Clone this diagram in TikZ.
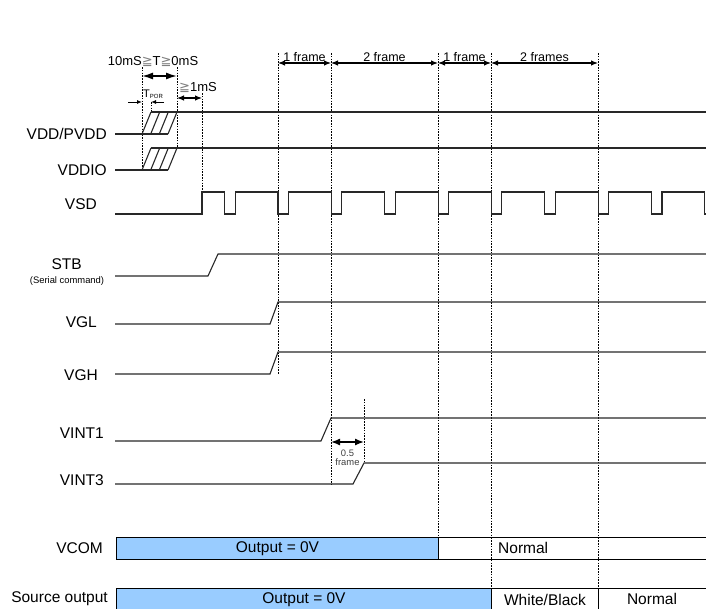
\documentclass[tikz,border=0pt]{standalone}
\usepackage{fontspec}
\setmainfont{Liberation Sans}
\newfontfamily\symfont{DejaVu Sans}
\usetikzlibrary{arrows.meta,positioning,calc}
\definecolor{barblue}{RGB}{153,204,255}
\definecolor{sigline}{RGB}{40,40,40}

\begin{document}
\begin{tikzpicture}[
    x=1pt, y=-1pt,
    sig/.style={draw=sigline, line width=1.1pt},
    guide/.style={draw=black, line width=0.7pt, dash pattern=on 1.6pt off 1.2pt},
    span/.style={{Latex[length=7pt,width=5.5pt]}-{Latex[length=7pt,width=5.5pt]}, line width=1.1pt},
    wide/.style={{Latex[length=11pt,width=7pt]}-{Latex[length=11pt,width=7pt]}, line width=1.6pt},
    half/.style={{Latex[length=9pt,width=7pt]}-{Latex[length=9pt,width=7pt]}, line width=1.4pt},
    tiny/.style={-{Latex[length=5pt,width=4pt]}, line width=0.9pt},
    lbl/.style={anchor=east, inner sep=0pt, font=\fontsize{15.5}{18}\selectfont},
    tlbl/.style={inner sep=0pt, font=\fontsize{12.5}{15}\selectfont},
    small/.style={inner sep=0pt, font=\fontsize{9.4}{11}\selectfont},
    bar/.style={draw=black, line width=1pt, fill=barblue, inner sep=0pt, anchor=north west, font=\fontsize{15.5}{18}\selectfont},
    cell/.style={draw=black, line width=1pt, inner sep=0pt, anchor=north west, font=\fontsize{15.5}{18}\selectfont}
]
\useasboundingbox (0,0) rectangle (706,608);

% Signal names
\node[lbl] (vdd) at (107,134) {VDD/PVDD};
\node[lbl] (vddio) at (107,170) {VDDIO};
\node[lbl] (vsd) at (97,204) {VSD};
\node[lbl] (stb) at (82,264) {STB};
\node[small] (stbnote) at (67,281) {(Serial command)};
\node[lbl] (vgl) at (97,322) {VGL};
\node[lbl] (vgh) at (98,375) {VGH};
\node[lbl] (vint1) at (104,433) {VINT1};
\node[lbl] (vint3) at (104,480) {VINT3};
\node[lbl] (vcom) at (103,548) {VCOM};
\node[lbl] (src) at (108,599) {Source output};

% Frame marks
\foreach \n/\x in {f0/278, f1/331, f2/438, f3/491, f4/598}
  \coordinate (\n) at (\x,53);
\draw[guide] (f0) -- (278,374);
\draw[guide] (f1) -- (331,485);
\draw[guide] (f2) -- (438,537);
\draw[guide] (f3) -- (491,588);
\draw[guide] (f4) -- (598,588);

\draw[span] (278,63) -- node[tlbl, above=1pt] {1 frame} (331,63);
\draw[span] (331,63) -- node[tlbl, above=1pt] {2 frame} (438,63);
\draw[span] (438,63) -- node[tlbl, above=1pt] {1 frame} (491,63);
\draw[span] (491,63) -- node[tlbl, above=1pt] {2 frames} (598,63);

% Power-on timing
\coordinate (ton) at (142,67);
\coordinate (tup) at (177,67);
\coordinate (tvsd) at (202,93);
\coordinate (tpor) at (151,102);
\draw[guide] (ton) -- (142,170);
\draw[guide] (tup) -- (177,148);
\draw[guide] (tvsd) -- (202,192);
\draw[guide] (tpor) -- (151,112);

\node[inner sep=0pt, font=\fontsize{13}{15}\selectfont] (trange) at (153,61)
  {10mS{\symfont\color{gray}≧}T{\symfont\color{gray}≧}0mS};
\draw[wide] (142,76) -- (177,76);
\node[inner sep=0pt, anchor=west, font=\fontsize{13}{15}\selectfont] (tdelay) at (179,87)
  {{\symfont\color{gray}≧}1mS};
\draw[span] (177,98) -- (202,98);
\node[inner sep=0pt, anchor=west, font=\fontsize{11}{13}\selectfont] (tporlbl) at (143,94)
  {T\raisebox{-1.5pt}{\fontsize{6}{7}\selectfont POR}};
\draw[tiny] (128,102) -- (142,102);
\draw[tiny] (164,102) -- (151,102);

% VDD/PVDD and VDDIO
\draw[sig] (115,134) -- (168,134);
\draw[sig] (151,112) -- (706,112);
\draw[sig] (115,170) -- (168,170);
\draw[sig] (151,148) -- (706,148);
\foreach \h in {142,150.7,159.3,168} {
  \draw[sig] (\h,134) -- ({\h+9},112);
  \draw[sig] (\h,170) -- ({\h+9},148);
}

% VSD
\draw[sig] (115,214) -- (202,214) -- (202,192)
  \foreach \k in {0,...,8} {
    -- ({224.65+53.35*\k},192) -- ({224.65+53.35*\k},214)
    -- ({235.15+53.35*\k},214) -- ({235.15+53.35*\k},192)
  }
  -- (704.8,192) -- (704.8,214) -- (706,214);

% STB, VGL, VGH
\draw[sig] (115,276) -- (208,276) -- (218,254) -- (706,254);
\draw[sig] (115,324) -- (270,324) -- (278,302) -- (706,302);
\draw[sig] (115,374) -- (270,374) -- (278,352) -- (706,352);

% VINT1 and VINT3
\draw[sig] (115,441) -- (321,441) -- (331,418) -- (706,418);
\draw[sig] (115,484) -- (353,484) -- (364,463) -- (706,463);
\coordinate (thalf) at (364,399);
\draw[guide] (thalf) -- (364,463);
\draw[half] (331,442) -- (364,442);
\node[small, text=black!75] (halflbl) at (347.5,453) {0.5};
\node[small, text=black!75, below=2pt of halflbl] (framelbl) {frame};

% Output bars
\node[bar, minimum width=322pt, minimum height=22pt] (vcomzero) at (116,537) {Output = 0V};
\node[cell, minimum width=275pt, minimum height=22pt] (vcomnorm) at (438,537) {};
\node[anchor=west, inner sep=0pt, font=\fontsize{15.5}{18}\selectfont] (vcomtxt) at (498,548) {Normal};
\node[bar, minimum width=375pt, minimum height=23pt] (srczero) at (116,588) {Output = 0V};
\node[cell, minimum width=107pt, minimum height=23pt] (srcwb) at (491,588) {White/Black};
\node[cell, minimum width=115pt, minimum height=23pt] (srcnorm) at (598,588) {};
\node[inner sep=0pt, font=\fontsize{15.5}{18}\selectfont] (srctxt) at (652,599) {Normal};

\end{tikzpicture}
\end{document}
